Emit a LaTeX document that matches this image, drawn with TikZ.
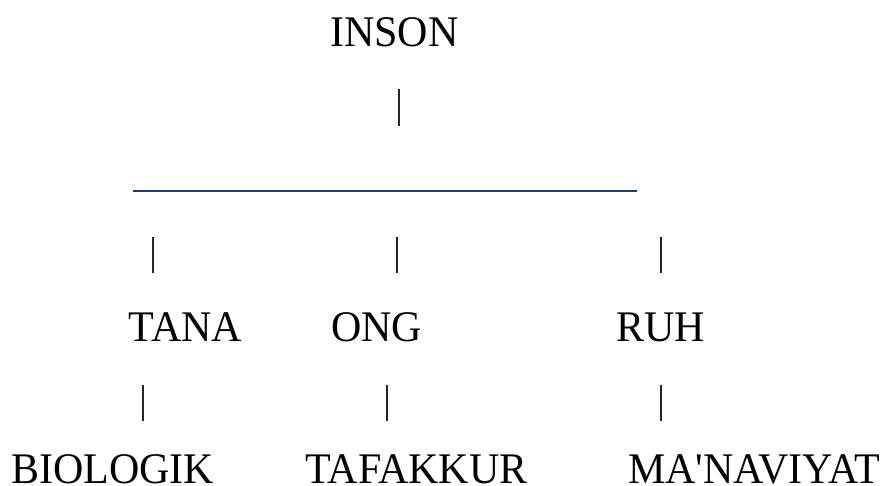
\documentclass[tikz,border=0pt]{standalone}
\usepackage{fontspec}
\setmainfont{Liberation Serif}
\definecolor{navyline}{RGB}{32,56,120}
\newcommand{\tallt}[1]{\scalebox{1}[1.04]{#1}}
\begin{document}
\begin{tikzpicture}[x=1pt,y=-1pt,
  lbl/.style={anchor=base,inner sep=0pt,font=\fontsize{42}{48}\selectfont},
  bar/.style={line width=1.1pt,draw=black!85},
  hline/.style={line width=1.6pt,draw=navyline}]
\useasboundingbox (0,0) rectangle (891,486);
% texts
\node[lbl] (inson) at (394.5,47) {\tallt{INSON}};
\node[lbl] (tana) at (185.5,341) {\tallt{TANA}};
\node[lbl] (ong) at (376.5,341) {\tallt{ONG}};
\node[lbl] (ruh) at (660.5,341) {\tallt{RUH}};
\node[lbl] (bio) at (112.5,483.5) {\tallt{BIOLOGIK}};
\node[lbl] (taf) at (416.5,483.5) {\tallt{TAFAKKUR}};
\node[lbl] (man) at (754,483.5) {\tallt{MA\textquotesingle NAVIYAT}};
% bar ends
\coordinate (b0t) at (399,89);  \coordinate (b0b) at (399,126);
\coordinate (hl) at (133,191);  \coordinate (hr) at (637,191);
\coordinate (b1t) at (153,237); \coordinate (b1b) at (153,273);
\coordinate (b2t) at (397,237); \coordinate (b2b) at (397,273);
\coordinate (b3t) at (661,237); \coordinate (b3b) at (661,273);
\coordinate (b4t) at (143,385); \coordinate (b4b) at (143,421);
\coordinate (b5t) at (387,385); \coordinate (b5b) at (387,421);
\coordinate (b6t) at (661,385); \coordinate (b6b) at (661,421);
\draw[bar] (b0t) -- (b0b);
\draw[hline] (hl) -- (hr);
\draw[bar] (b1t) -- (b1b);
\draw[bar] (b2t) -- (b2b);
\draw[bar] (b3t) -- (b3b);
\draw[bar] (b4t) -- (b4b);
\draw[bar] (b5t) -- (b5b);
\draw[bar] (b6t) -- (b6b);
\end{tikzpicture}
\end{document}
